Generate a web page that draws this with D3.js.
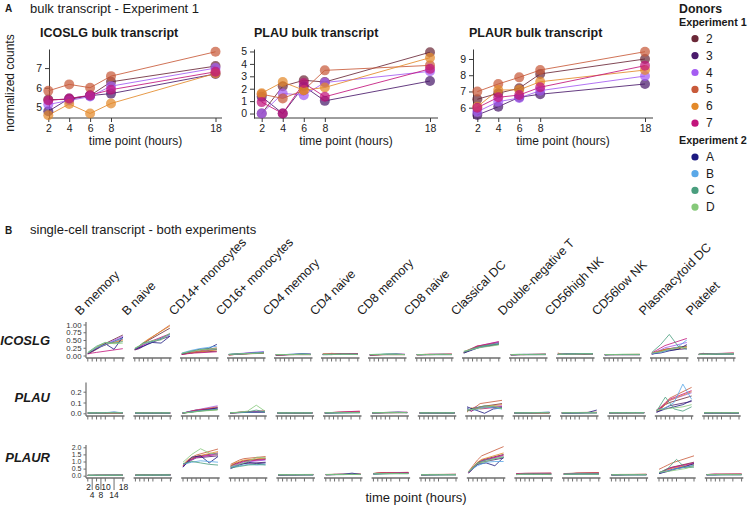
<!DOCTYPE html>
<html><head><meta charset="utf-8">
<script src="https://cdn.jsdelivr.net/npm/d3@7"></script>
<style>body{margin:0;background:#fff}svg{font-family:"Liberation Sans",Arial,Helvetica,sans-serif}</style>
</head><body><svg id="c" width="749" height="507"></svg>
<script>
// ---------------- DATA ----------------
const donors = ["2","3","4","5","6","7","A","B","C","D"];
const donorColors = ["#6b2838","#4a1a6b","#a45cf2","#c85a3a","#e3892a","#c2147c","#1c1a80","#5aa8e8","#4a9e7e","#86c97a"];
const exp1Donors = ["2","3","4","5","6","7"];
const exp2Donors = ["A","B","C","D"];
const bulkTimes = [2,4,6,8,18];
// bulk, one row per Experiment-1 donor (2..7)
const bulkICOSLG = [[5.4,5.4,5.6,6.3,7.1],[4.8,5.45,5.6,5.7,6.7],[5.15,5.35,5.55,6.08,7.0],[5.84,6.17,6.0,6.59,7.83],[4.6,5.17,4.69,5.2,6.73],[5.35,5.45,5.62,5.9,6.81]];
const bulkPLAU = [[0,2.2,2.68,2.54,4.94],[1.35,0,2.2,1.02,2.62],[0,1.62,1.48,2.5,3.4],[1.56,1.22,1.88,3.48,3.88],[1.64,2.54,1.88,2.1,4.5],[0.92,0,2.46,1.35,3.6]];
const bulkPLAUR = [[6.52,6.89,7.2,8.08,9.0],[5.55,6.06,6.64,6.83,7.46],[5.75,6.37,6.6,7.05,7.95],[6.99,7.46,7.87,8.32,9.45],[6.06,7.09,7.1,7.6,8.32],[6.0,6.64,6.78,7.26,8.59]];

const cellTypes = ["B memory","B naive","CD14+ monocytes","CD16+ monocytes","CD4 memory","CD4 naive","CD8 memory","CD8 naive","Classical DC","Double-negative T","CD56high NK","CD56low NK","Plasmacytoid DC","Platelet"];
const genes = ["ICOSLG","PLAU","PLAUR"];
const scTimesExp1 = [2,4,6,8,18];
const scTimesExp2 = [2,6,10,14,18];
const scTicks = [2,4,6,8,10,14,18];
const scTickLabelsTop = [2,6,10,18];
const scTickLabelsLow = [4,8,14];
const icoslgTicks = [0,0.25,0.5,0.75,1];
const plauTicks = [0,0.1,0.2];
const plaurTicks = [0,0.5,1,1.5,2];

// single cell: per cell type, 10 donor series (2,3,4,5,6,7,A,B,C,D)
const icoslgSC = [
 [[.08,.15,.25,.32,.66],[.06,.12,.2,.28,.58],[.07,.14,.22,.3,.62],[.06,.13,.21,.3,.52],[.07,.16,.26,.34,.48],[.05,.08,.1,.12,.22],[.06,.22,.38,.2,.6],[.08,.25,.35,.45,.55],[.1,.3,.42,.4,.45],[.08,.28,.42,.38,.4]],
 [[.2,.28,.38,.48,.88],[.18,.22,.3,.38,.62],[.2,.26,.33,.4,.66],[.22,.3,.4,.5,.98],[.2,.3,.42,.52,.95],[.18,.25,.35,.42,.7],[.2,.3,.42,.4,.62],[.22,.38,.45,.55,.68],[.2,.42,.45,.55,.7],[.24,.38,.48,.5,.72]],
 [[.05,.07,.09,.1,.14],[.04,.06,.08,.1,.2],[.05,.07,.1,.12,.22],[.05,.08,.1,.12,.25],[.04,.06,.08,.1,.18],[.03,.05,.07,.08,.12],[.05,.12,.2,.22,.36],[.08,.16,.22,.26,.3],[.06,.14,.18,.22,.2],[.07,.12,.18,.2,.22]],
 [[.03,.04,.05,.06,.1],[.02,.03,.04,.05,.08],[.03,.04,.06,.07,.13],[.02,.03,.04,.05,.07],[.02,.03,.04,.05,.09],[.02,.03,.04,.06,.1],[.03,.05,.06,.08,.1],[.04,.05,.07,.09,.11],[.03,.05,.06,.07,.08],[.04,.05,.06,.07,.09]],
 [[.02,.02,.03,.03,.04],[.02,.02,.02,.03,.03],[.02,.03,.03,.03,.04],[.02,.02,.03,.03,.04],[.02,.02,.03,.03,.03],[.02,.02,.02,.03,.03],[.02,.03,.04,.06,.04],[.03,.03,.04,.05,.04],[.03,.03,.03,.04,.03],[.03,.03,.03,.04,.03]],
 [[.04,.04,.05,.05,.06],[.03,.03,.04,.04,.04],[.03,.04,.04,.04,.05],[.05,.05,.06,.06,.06],[.04,.05,.07,.06,.06],[.04,.04,.05,.05,.06],[.03,.03,.04,.04,.04],[.03,.04,.04,.04,.04],[.03,.03,.04,.04,.03],[.04,.04,.04,.04,.04]],
 [[.02,.03,.03,.03,.03],[.02,.02,.02,.03,.03],[.02,.03,.03,.03,.04],[.02,.02,.03,.03,.03],[.02,.02,.02,.03,.03],[.02,.02,.03,.03,.04],[.02,.03,.04,.05,.03],[.03,.03,.04,.04,.03],[.03,.04,.05,.04,.03],[.03,.03,.04,.04,.03]],
 [[.03,.03,.03,.03,.04],[.02,.02,.03,.03,.03],[.03,.03,.03,.03,.04],[.03,.03,.04,.04,.04],[.02,.03,.03,.03,.04],[.03,.03,.03,.04,.04],[.03,.03,.03,.03,.03],[.03,.03,.04,.04,.03],[.03,.03,.03,.03,.03],[.03,.03,.03,.04,.03]],
 [[.1,.16,.22,.28,.42],[.08,.14,.2,.25,.36],[.1,.17,.24,.3,.44],[.12,.18,.24,.3,.4],[.1,.15,.2,.26,.38],[.1,.16,.22,.3,.45],[.08,.18,.28,.32,.38],[.12,.2,.28,.34,.4],[.1,.22,.3,.34,.36],[.14,.2,.26,.3,.34]],
 [[.03,.03,.03,.03,.04],[.02,.02,.03,.03,.03],[.03,.03,.03,.04,.04],[.03,.03,.03,.03,.04],[.02,.03,.03,.03,.03],[.03,.03,.03,.03,.04],[.02,.03,.03,.03,.03],[.03,.03,.03,.03,.03],[.03,.04,.03,.03,.04],[.03,.03,.04,.04,.04]],
 [[.04,.04,.05,.05,.05],[.03,.04,.04,.05,.05],[.03,.04,.05,.06,.05],[.08,.04,.05,.05,.05],[.06,.04,.04,.05,.04],[.04,.04,.05,.05,.06],[.03,.04,.06,.05,.05],[.04,.05,.05,.06,.05],[.04,.05,.05,.06,.06],[.04,.04,.05,.05,.05]],
 [[.03,.03,.03,.03,.03],[.02,.03,.03,.03,.03],[.03,.03,.03,.03,.03],[.03,.03,.03,.03,.04],[.03,.03,.03,.03,.03],[.03,.03,.03,.03,.03],[.02,.03,.03,.03,.03],[.03,.03,.03,.03,.03],[.03,.03,.03,.03,.03],[.03,.03,.04,.04,.04]],
 [[.06,.1,.15,.2,.3],[.04,.08,.12,.16,.22],[.05,.12,.18,.25,.42],[.08,.12,.16,.2,.3],[.06,.1,.14,.18,.26],[.08,.16,.24,.32,.55],[.05,.08,.15,.2,.35],[.06,.1,.18,.28,.5],[.1,.35,.68,.3,.2],[.08,.12,.2,.24,.28]],
 [[.04,.07,.05,.05,.05],[.03,.04,.04,.05,.06],[.03,.04,.04,.05,.06],[.04,.04,.05,.05,.08],[.03,.04,.04,.05,.06],[.04,.05,.05,.06,.08],[.03,.04,.04,.05,.06],[.04,.04,.05,.05,.05],[.04,.05,.04,.05,.04],[.04,.04,.05,.05,.06]]
];
const plauSC = [
 [[.002,.003,.003,.004,.004],[.002,.002,.003,.003,.003],[.003,.003,.004,.004,.005],[.002,.003,.003,.003,.004],[.002,.002,.003,.003,.003],[.002,.003,.003,.004,.004],[.003,.004,.005,.01,.004],[.003,.004,.006,.012,.005],[.003,.003,.004,.004,.004],[.004,.004,.004,.005,.004]],
 [[.002,.002,.002,.002,.003],[.002,.002,.002,.002,.002],[.002,.002,.002,.003,.003],[.002,.002,.002,.002,.003],[.002,.002,.002,.003,.003],[.002,.002,.003,.003,.003],[.002,.002,.002,.003,.002],[.002,.002,.003,.003,.003],[.003,.003,.003,.003,.003],[.004,.004,.004,.004,.004]],
 [[.002,.01,.02,.03,.05],[.002,.008,.015,.02,.04],[.003,.012,.022,.03,.07],[.002,.01,.02,.028,.06],[.001,.006,.012,.02,.035],[.002,.01,.018,.026,.05],[.002,.012,.025,.035,.05],[.004,.014,.024,.03,.04],[.003,.01,.02,.028,.035],[.003,.01,.02,.025,.03]],
 [[.004,.006,.008,.01,.018],[.003,.005,.006,.008,.012],[.004,.006,.008,.01,.015],[.004,.006,.01,.012,.022],[.003,.005,.007,.009,.014],[.004,.006,.008,.012,.02],[.004,.006,.008,.01,.012],[.005,.007,.01,.012,.014],[.004,.008,.012,.03,.012],[.005,.01,.02,.075,.02]],
 [[.003,.003,.003,.003,.004],[.002,.003,.003,.003,.003],[.003,.003,.003,.004,.004],[.003,.003,.003,.003,.004],[.002,.003,.003,.003,.003],[.003,.003,.003,.003,.004],[.003,.003,.003,.003,.003],[.003,.003,.004,.004,.003],[.003,.003,.003,.003,.003],[.004,.004,.004,.004,.004]],
 [[.004,.005,.006,.007,.01],[.003,.004,.005,.006,.008],[.004,.005,.006,.008,.012],[.005,.006,.008,.01,.014],[.004,.005,.007,.008,.012],[.004,.006,.008,.011,.02],[.003,.004,.005,.006,.007],[.004,.004,.005,.006,.006],[.004,.004,.005,.005,.005],[.005,.005,.005,.006,.006]],
 [[.004,.005,.006,.006,.008],[.003,.004,.005,.005,.006],[.004,.005,.006,.007,.009],[.004,.005,.005,.006,.007],[.003,.004,.005,.006,.007],[.004,.005,.006,.008,.01],[.004,.006,.008,.011,.006],[.004,.005,.006,.007,.006],[.005,.006,.009,.008,.007],[.005,.006,.007,.007,.006]],
 [[.003,.003,.004,.004,.005],[.003,.003,.003,.003,.004],[.003,.003,.004,.004,.005],[.003,.004,.004,.004,.005],[.003,.003,.003,.004,.004],[.003,.003,.004,.004,.005],[.003,.003,.003,.003,.003],[.003,.003,.004,.004,.004],[.004,.004,.004,.004,.004],[.004,.004,.004,.004,.004]],
 [[.03,.04,.05,.06,.09],[.05,.02,.04,.05,.06],[.02,.04,.06,.05,.07],[.02,.04,.06,.09,.12],[.01,.05,.04,.06,.08],[.03,.02,.05,.04,.06],[.06,.03,.0,.04,.05],[.04,.03,.06,.05,.04],[.02,.05,.07,.06,.05],[.03,.04,.05,.07,.04]],
 [[.003,.003,.004,.004,.005],[.003,.003,.003,.004,.004],[.003,.004,.004,.005,.006],[.003,.003,.004,.004,.005],[.003,.003,.003,.004,.004],[.003,.004,.004,.005,.005],[.003,.004,.005,.007,.01],[.003,.004,.006,.008,.01],[.004,.004,.004,.005,.005],[.004,.004,.005,.005,.005]],
 [[.004,.004,.005,.005,.006],[.003,.003,.004,.004,.005],[.004,.004,.005,.005,.006],[.004,.005,.006,.007,.01],[.004,.004,.005,.006,.008],[.004,.005,.005,.006,.008],[.002,.002,.004,.008,.03],[.004,.004,.005,.006,.007],[.004,.004,.004,.004,.004],[.005,.005,.005,.005,.005]],
 [[.004,.004,.005,.005,.006],[.003,.004,.004,.004,.005],[.004,.004,.005,.005,.006],[.004,.005,.005,.006,.007],[.004,.004,.005,.005,.006],[.004,.004,.005,.005,.006],[.005,.006,.006,.007,.006],[.004,.005,.005,.006,.005],[.004,.004,.004,.004,.004],[.005,.005,.005,.005,.005]],
 [[.02,.05,.08,.1,.16],[.01,.03,.05,.07,.11],[.02,.06,.09,.12,.19],[.03,.06,.1,.14,.24],[.02,.04,.08,.12,.2],[.03,.05,.09,.13,.21],[.01,.04,.06,.08,.12],[.03,.05,.1,.27,.13],[.02,.15,.04,.02,.06],[.03,.04,.05,.06,.08]],
 [[.003,.003,.003,.004,.004],[.002,.003,.003,.003,.003],[.003,.003,.003,.004,.004],[.003,.003,.003,.004,.004],[.003,.003,.003,.003,.004],[.003,.003,.004,.004,.004],[.003,.003,.003,.003,.003],[.003,.003,.003,.004,.003],[.004,.004,.004,.004,.004],[.005,.005,.005,.005,.005]]
];
const plaurSC = [
 [[.02,.02,.03,.03,.03],[.02,.02,.02,.02,.03],[.02,.02,.03,.03,.03],[.02,.02,.03,.03,.04],[.02,.02,.02,.03,.03],[.02,.02,.03,.03,.03],[.02,.02,.03,.03,.03],[.02,.03,.03,.04,.03],[.03,.03,.03,.03,.03],[.04,.04,.04,.04,.04]],
 [[.04,.04,.05,.05,.06],[.03,.04,.04,.04,.05],[.04,.04,.05,.05,.06],[.04,.05,.06,.07,.09],[.04,.05,.05,.06,.08],[.04,.04,.05,.05,.07],[.03,.04,.04,.05,.05],[.04,.04,.05,.05,.05],[.04,.04,.04,.05,.05],[.05,.05,.05,.05,.05]],
 [[.7,1.0,1.2,1.35,1.6],[.65,.9,1.1,1.25,1.4],[.6,.95,1.15,1.3,1.55],[.75,1.1,1.3,1.45,1.88],[.7,1.05,1.2,1.35,1.7],[.65,1.0,1.15,1.3,1.5],[.6,1.3,1.4,.9,1.35],[.8,.95,1.05,1.0,.95],[.85,1.0,.9,.8,.75],[.95,1.5,1.9,1.6,1.5]],
 [[.7,.85,.95,1.05,1.2],[.55,.7,.8,.85,.95],[.6,.75,.85,.95,1.1],[.8,.95,1.1,1.2,1.35],[.7,.9,1.0,1.1,1.25],[.65,.8,.9,1.0,1.15],[.5,.75,.95,.85,.9],[.6,.7,.8,.75,.8],[.55,.65,.75,.8,.75],[.65,.8,1.0,1.3,1.25]],
 [[.06,.06,.07,.07,.08],[.05,.05,.06,.06,.07],[.06,.06,.07,.07,.08],[.06,.07,.07,.08,.09],[.05,.06,.06,.07,.08],[.06,.06,.07,.07,.08],[.05,.06,.06,.07,.06],[.06,.06,.07,.07,.07],[.06,.06,.06,.06,.06],[.07,.07,.07,.07,.07]],
 [[.08,.08,.09,.09,.1],[.07,.07,.08,.08,.09],[.08,.08,.09,.1,.1],[.08,.09,.1,.1,.11],[.07,.08,.08,.09,.1],[.08,.08,.09,.09,.1],[.07,.08,.1,.18,.08],[.08,.08,.09,.1,.09],[.08,.08,.08,.09,.08],[.09,.09,.09,.09,.09]],
 [[.15,.18,.18,.2,.22],[.12,.14,.15,.16,.18],[.14,.16,.17,.18,.2],[.16,.2,.22,.2,.24],[.14,.17,.18,.19,.2],[.15,.17,.2,.2,.22],[.12,.14,.15,.16,.16],[.13,.15,.16,.17,.16],[.12,.13,.14,.14,.14],[.13,.14,.15,.15,.15]],
 [[.07,.07,.08,.08,.09],[.06,.06,.07,.07,.08],[.07,.07,.08,.08,.09],[.08,.08,.09,.09,.1],[.06,.07,.07,.08,.08],[.07,.07,.08,.08,.09],[.06,.06,.07,.07,.07],[.07,.07,.07,.08,.07],[.06,.06,.06,.06,.06],[.07,.07,.07,.07,.07]],
 [[.25,.6,.9,1.1,1.5],[.2,.5,.8,.95,1.25],[.25,.55,.85,1.05,1.4],[.3,.7,1.1,1.4,2.05],[.25,.6,.95,1.15,1.6],[.2,.55,.85,1.05,1.45],[.2,.8,.9,.7,1.3],[.3,.7,.95,1.0,1.0],[.25,.9,1.1,1.2,1.3],[.3,.85,1.0,1.2,1.35]],
 [[.12,.13,.14,.15,.16],[.08,.09,.1,.1,.11],[.1,.11,.12,.13,.14],[.14,.15,.16,.17,.18],[.1,.12,.13,.14,.15],[.15,.16,.17,.17,.18],[.08,.09,.1,.1,.1],[.09,.1,.1,.11,.1],[.08,.12,.1,.09,.08],[.09,.1,.1,.1,.1]],
 [[.14,.15,.16,.17,.18],[.1,.11,.12,.13,.14],[.12,.13,.14,.15,.17],[.15,.16,.17,.19,.22],[.12,.14,.15,.16,.18],[.13,.14,.15,.17,.19],[.1,.11,.12,.12,.12],[.11,.12,.13,.12,.12],[.1,.1,.11,.11,.1],[.11,.11,.11,.11,.11]],
 [[.07,.07,.08,.08,.09],[.05,.06,.06,.07,.07],[.06,.07,.07,.08,.08],[.08,.08,.09,.09,.1],[.06,.07,.07,.08,.09],[.07,.07,.08,.08,.09],[.06,.06,.07,.07,.07],[.06,.07,.07,.07,.07],[.06,.06,.06,.06,.06],[.07,.07,.07,.07,.07]],
 [[.2,.35,.5,.6,.95],[.15,.25,.35,.45,.7],[.18,.3,.45,.55,.85],[.45,.6,.75,.9,1.4],[.2,.3,.42,.52,.8],[.2,.32,.48,.58,.9],[.15,.3,.5,.65,.85],[.2,.35,.5,.6,.75],[.2,.5,1.15,.55,.6],[.25,.3,.4,.5,.7]],
 [[.08,.09,.09,.1,.1],[.06,.07,.07,.08,.08],[.07,.08,.08,.09,.1],[.08,.09,.1,.1,.11],[.07,.08,.08,.09,.1],[.08,.1,.12,.1,.11],[.06,.06,.07,.07,.07],[.07,.07,.08,.08,.08],[.07,.07,.07,.07,.07],[.08,.08,.08,.08,.08]]
];

// ---------------- DRAW ----------------
const svg = d3.select("#c");
const color = d3.scaleOrdinal().domain(donors).range(donorColors);
const AX = "#3c3c3c";

function txt(x,y,s,o={}){
  const t = svg.append("text").attr("x",x).attr("y",y).text(s)
    .attr("font-size",o.size||12).attr("fill",o.fill||"#1a1a1a");
  if(o.weight) t.attr("font-weight",o.weight);
  if(o.style) t.attr("font-style",o.style);
  if(o.anchor) t.attr("text-anchor",o.anchor);
  if(o.rot!==undefined) t.attr("transform",`rotate(${o.rot},${x},${y})`);
  return t;
}

// Panel A headings
txt(5,12,"A",{size:10,weight:"bold"});
txt(30,13,"bulk transcript - Experiment 1",{size:13});

const bulkCfg = [
  {title:"ICOSLG bulk transcript", tx:40, yAx:49, x2:48.3, x18:215.5, xEnd:222, ydom:[4.46,7.97], yt:[5,6,7], data:bulkICOSLG},
  {title:"PLAU bulk transcript", tx:254, yAx:254, x2:261.7, x18:430, xEnd:438, ydom:[-0.36,5.2], yt:[0,1,2,3,4,5], data:bulkPLAU},
  {title:"PLAUR bulk transcript", tx:469, yAx:473, x2:477.3, x18:645, xEnd:653, ydom:[5.365,9.616], yt:[6,7,8,9], data:bulkPLAUR}
];
const aTop = 49, aBot = 118;
bulkCfg.forEach((c,ci)=>{
  const x = d3.scaleLinear().domain([2,18]).range([c.x2,c.x18]);
  const y = d3.scaleLinear().domain(c.ydom).range([aBot,aTop]);
  txt(c.tx,37,c.title,{size:12.5,weight:"bold"});
  const gy = svg.append("g").attr("transform",`translate(${c.yAx},0)`)
    .call(d3.axisLeft(y).tickValues(c.yt).tickSize(4).tickSizeOuter(0).tickFormat(d3.format("d")));
  const gx = svg.append("g").attr("transform",`translate(0,${aBot})`)
    .call(d3.axisBottom(x).tickValues(bulkTimes).tickSize(4).tickSizeOuter(0));
  gx.select(".domain").remove();
  svg.append("line").attr("x1",c.yAx).attr("x2",c.xEnd).attr("y1",aBot).attr("y2",aBot).attr("stroke",AX);
  [gx,gy].forEach(g=>{
    g.selectAll(".domain,.tick line").attr("stroke",AX);
    g.selectAll("text").attr("font-size",10.5).attr("fill","#222").attr("font-family","'Liberation Sans',Arial,sans-serif");
  });
  txt((c.yAx+c.xEnd)/2,145,"time point (hours)",{size:12,anchor:"middle"});
  const line = d3.line().x((d,i)=>x(bulkTimes[i])).y(d=>y(d));
  c.data.forEach((s,di)=>{
    svg.append("path").attr("d",line(s)).attr("fill","none")
      .attr("stroke",color(exp1Donors[di])).attr("stroke-width",1).attr("stroke-opacity",0.85);
  });
  c.data.forEach((s,di)=>{
    svg.append("g").selectAll("circle").data(s).join("circle")
      .attr("cx",(d,i)=>x(bulkTimes[i])).attr("cy",d=>y(d)).attr("r",5)
      .attr("fill",color(exp1Donors[di])).attr("fill-opacity",0.72);
  });
});
txt(14,83,"normalized counts",{size:12,anchor:"middle",rot:-90});

// Legend
txt(679,13,"Donors",{size:12.3,weight:"bold"});
txt(679,26,"Experiment 1",{size:10.8,weight:"bold"});
exp1Donors.forEach((d,i)=>{
  const yy = 38.7 + i*16.9;
  svg.append("circle").attr("cx",695).attr("cy",yy).attr("r",3.6).attr("fill",color(d));
  txt(706,yy+4,d,{size:12});
});
txt(679,144,"Experiment 2",{size:10.8,weight:"bold"});
exp2Donors.forEach((d,i)=>{
  const yy = 157 + i*16.7;
  svg.append("circle").attr("cx",695).attr("cy",yy).attr("r",3.6).attr("fill",color(d));
  txt(706,yy+4,d,{size:12});
});

// Panel B
txt(5,234,"B",{size:10,weight:"bold"});
txt(30,234,"single-cell transcript - both experiments",{size:13});

const colStep = 47.0, col0 = 86, panelW = 38.5;
cellTypes.forEach((ct,i)=>{
  txt(col0 + i*colStep - 6, 316, ct, {size:12.5, rot:-45});
});

const rows = [
  {gene:"ICOSLG", data:icoslgSC, y0:355.5, y1:324.5, v1:1, top:322, bot:358, step:47.0, ticks:icoslgTicks, fmt:".2f", ly:345, fs:7.8},
  {gene:"PLAU", data:plauSC, y0:413.3, y1:391.7, v1:0.2, top:382.5, bot:416, step:47.4, ticks:plauTicks, fmt:".1f", ly:402, fs:7.8},
  {gene:"PLAUR", data:plaurSC, y0:475.7, y1:447.3, v1:2, top:445, bot:478, step:47.6, ticks:plaurTicks, fmt:".1f", ly:462, fs:7}
];
const GA = "#6e6e6e";
rows.forEach((r,ri)=>{
  txt(50,r.ly,r.gene,{size:13,weight:"bold",style:"italic",anchor:"end"});
  const y = d3.scaleLinear().domain([0,r.v1]).range([r.y0,r.y1]);
  svg.append("line").attr("x1",col0).attr("x2",col0).attr("y1",r.top).attr("y2",r.bot).attr("stroke",GA).attr("stroke-width",1.2);
  const gy = svg.append("g").attr("transform",`translate(${col0},0)`)
    .call(d3.axisLeft(y).tickValues(r.ticks).tickSize(2.5).tickFormat(d3.format(r.fmt)));
  gy.select(".domain").remove();
  gy.selectAll(".tick line").attr("stroke",GA);
  gy.selectAll("text").attr("font-size",r.fs).attr("fill","#333").attr("dx",1).attr("font-family","'Liberation Sans',Arial,sans-serif");
  cellTypes.forEach((ct,ci)=>{
    const sx = col0 + ci*r.step;
    const x = d3.scaleLinear().domain([2,18]).range([sx+1.8,sx+36.8]);
    svg.append("line").attr("x1",sx).attr("x2",sx+panelW).attr("y1",r.bot).attr("y2",r.bot).attr("stroke",GA).attr("stroke-width",1.3);
    const longTicks = (ri===2 && ci===0);
    svg.append("g").selectAll("line").data(scTicks).join("line")
      .attr("x1",d=>x(d)).attr("x2",d=>x(d)).attr("y1",r.bot)
      .attr("y2",d=> longTicks && scTickLabelsLow.includes(d) ? r.bot+12 : r.bot+3.5)
      .attr("stroke",GA).attr("stroke-width",1);
    if(longTicks){
      scTickLabelsTop.forEach(v=>txt(x(v)+0.8,r.bot+12,v,{size:8.5,anchor:"middle",fill:"#222"}));
      scTickLabelsLow.forEach(v=>txt(x(v),r.bot+20,v,{size:8.5,anchor:"middle",fill:"#222"}));
    }
    const series = r.data[ci];
    series.forEach((s,di)=>{
      const times = di<6 ? scTimesExp1 : scTimesExp2;
      const line = d3.line().x((d,i)=>x(times[i])).y(d=>y(d));
      svg.append("path").attr("d",line(s)).attr("fill","none")
        .attr("stroke",color(donors[di])).attr("stroke-width",0.9).attr("stroke-opacity",0.9);
    });
  });
});
txt(416,502,"time point (hours)",{size:13,anchor:"middle"});
</script></body></html>
